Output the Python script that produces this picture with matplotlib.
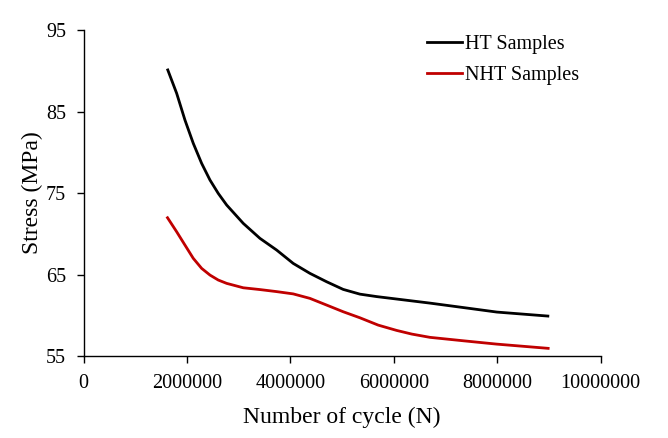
import matplotlib
matplotlib.use("Agg")
import matplotlib.pyplot as plt

# values (cycles, stress in MPa)
ht_cycles = [1630000, 1802000, 1962000, 2123000, 2285000, 2446000, 2606000, 2769000,
             3090000, 3413000, 3735000, 4056000, 4379000, 4702000, 5023000, 5346000,
             5669000, 6120000, 6700000, 7350000, 7995000, 8981000]
ht_stress = [90.1, 87.23, 83.96, 81.1, 78.64, 76.6, 74.96, 73.53,
             71.28, 69.44, 68.01, 66.37, 65.15, 64.12, 63.18, 62.6,
             62.3, 61.95, 61.5, 60.95, 60.4, 59.91]

nht_cycles = [1625000, 1802000, 1962000, 2123000, 2285000, 2446000, 2606000, 2769000,
              3090000, 3413000, 3735000, 4056000, 4379000, 4702000, 5023000, 5346000,
              5700000, 6056000, 6350000, 6700000, 7343000, 7990000, 8987000]
nht_stress = [71.97, 70.25, 68.62, 66.99, 65.76, 64.94, 64.33, 63.92,
              63.38, 63.16, 62.91, 62.63, 62.08, 61.26, 60.44, 59.7,
              58.8, 58.15, 57.7, 57.3, 56.88, 56.47, 55.95]

x_ticks = [0, 2000000, 4000000, 6000000, 8000000, 10000000]
y_ticks = [55, 65, 75, 85, 95]

plt.rcParams['font.family'] = ['Liberation Serif', 'DejaVu Serif']

fig = plt.figure(figsize=(6.68, 4.38), dpi=100)
ax = fig.add_axes([0.125, 0.187, 0.774, 0.7445])

ax.plot(ht_cycles, ht_stress, color='black', lw=2.0, label='HT Samples',
        solid_joinstyle='round')
ax.plot(nht_cycles, nht_stress, color='#C00000', lw=2.0, label='NHT Samples',
        solid_joinstyle='round')

ax.set_xlim(0, 10000000)
ax.set_ylim(55, 95)
ax.set_xticks(x_ticks)
ax.set_xticklabels([str(v) for v in x_ticks])
ax.set_yticks(y_ticks)

ax.spines['top'].set_visible(False)
ax.spines['right'].set_visible(False)
for s in ['left', 'bottom']:
    ax.spines[s].set_linewidth(1.0)
ax.tick_params(direction='out', length=5, width=1.0, labelsize=14.5, colors='black')
ax.tick_params(axis='x', pad=8)
ax.tick_params(axis='y', pad=7.5)

ax.set_xlabel('Number of cycle (N)', fontsize=17, labelpad=10)
ax.set_ylabel('Stress (MPa)', fontsize=17, labelpad=2)

fig.legend(loc='upper left', bbox_to_anchor=(0.639, 0.921), frameon=False,
           fontsize=14.5, handlelength=1.75, handletextpad=0.15,
           borderpad=0, borderaxespad=0, labelspacing=0.63)

fig.savefig('out.png', dpi=100)
